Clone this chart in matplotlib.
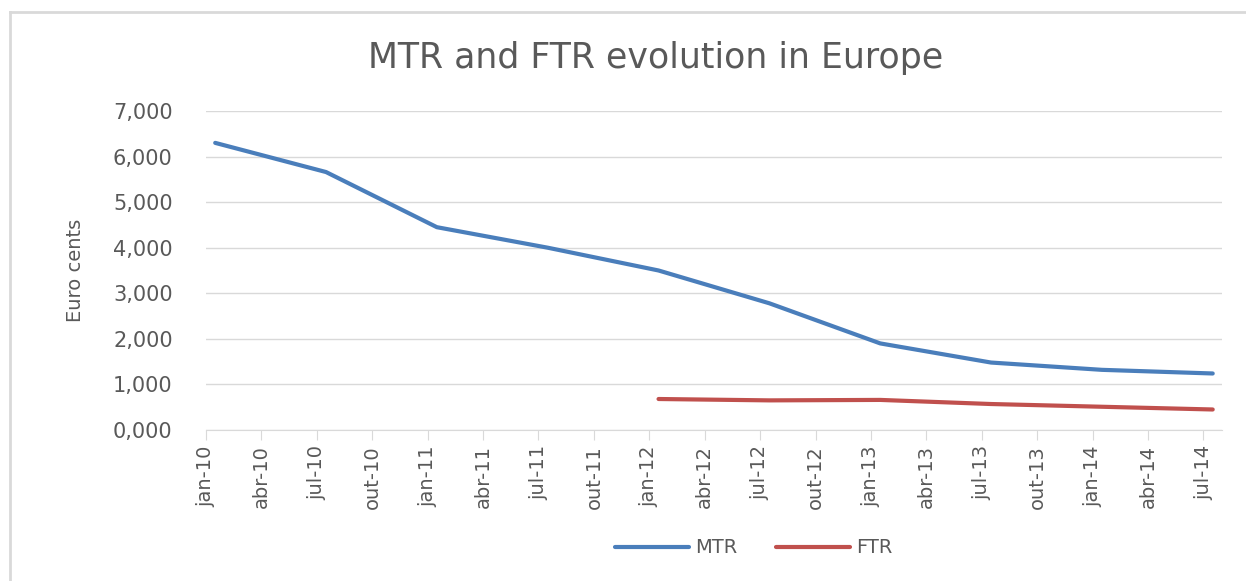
#Importing necessary libraries
import numpy as np
from matplotlib import pyplot as plt
from matplotlib.lines import Line2D

#Chart data (values in euro cents)
months = ["jan", "abr", "jul", "out"]
years = ["10", "11", "12", "13", "14"]
tick_labels = [m + "-" + y for y in years for m in months][:19]  # jan-10 .. jul-14

# semiannual observations, month index counted from jan-10
mtr_month = [0, 6, 12, 18, 24, 30, 36, 42, 48, 54]
mtr_values = [6.30, 5.66, 4.45, 4.00, 3.50, 2.78, 1.90, 1.48, 1.32, 1.24]

ftr_month = [24, 30, 36, 42, 48, 54]
ftr_values = [0.68, 0.65, 0.66, 0.57, 0.51, 0.45]

text_col = "#595959"
grid_col = "#D9D9D9"
mtr_col = "#4A7EBB"
ftr_col = "#C0504D"

plt.rcParams['font.family'] = ['DejaVu Sans']

fig = plt.figure(figsize=(12.46, 5.81), dpi=100)
ax = fig.add_axes([0.1653, 0.2599, 0.8154, 0.5491])

#Excel-like date axis: points sit in the middle of each month
ax.plot(np.array(mtr_month) + 0.5, mtr_values, color=mtr_col, lw=3,
        solid_capstyle='round', label="MTR")
ax.plot(np.array(ftr_month) + 0.5, ftr_values, color=ftr_col, lw=3,
        solid_capstyle='round', label="FTR")

ax.set_xlim(0, 55)
ax.set_ylim(0, 7)
ax.set_xticks(range(0, 55, 3))
ax.set_xticklabels(tick_labels, rotation=90, fontsize=14, color=text_col)
ax.set_yticks(range(0, 8))
ax.set_yticklabels([("%.3f" % v).replace(".", ",") for v in range(0, 8)],
                   fontsize=15, color=text_col)

ax.grid(axis='y', color=grid_col, lw=1)
ax.set_axisbelow(True)
for s in ["top", "right", "left"]:
    ax.spines[s].set_visible(False)
ax.spines["bottom"].set_color(grid_col)
ax.tick_params(axis='x', length=7, color=grid_col, pad=4)
ax.tick_params(axis='y', length=0, pad=24)

ax.set_ylabel("Euro cents", fontsize=14, color=text_col, labelpad=20)
fig.text(0.526, 0.90, "MTR and FTR evolution in Europe", ha='center', va='center',
         fontsize=25, color=text_col)

#Legend at the bottom
handles = [Line2D([], [], color=mtr_col, lw=3, solid_capstyle='round'),
           Line2D([], [], color=ftr_col, lw=3, solid_capstyle='round')]
fig.legend(handles, ["MTR", "FTR"], loc='center', bbox_to_anchor=(0.605, 0.057),
           ncol=2, frameon=False, fontsize=14, labelcolor=text_col,
           handlelength=3.8, handletextpad=0.3, columnspacing=2.0)

#Light border on top and left like the original screenshot
fig.add_artist(Line2D([10 / 1246, 1.0], [1 - 12 / 581, 1 - 12 / 581],
                      transform=fig.transFigure, color=grid_col, lw=2))
fig.add_artist(Line2D([10 / 1246, 10 / 1246], [0, 1 - 12 / 581],
                      transform=fig.transFigure, color=grid_col, lw=2))

plt.savefig("out.png", dpi=100)
